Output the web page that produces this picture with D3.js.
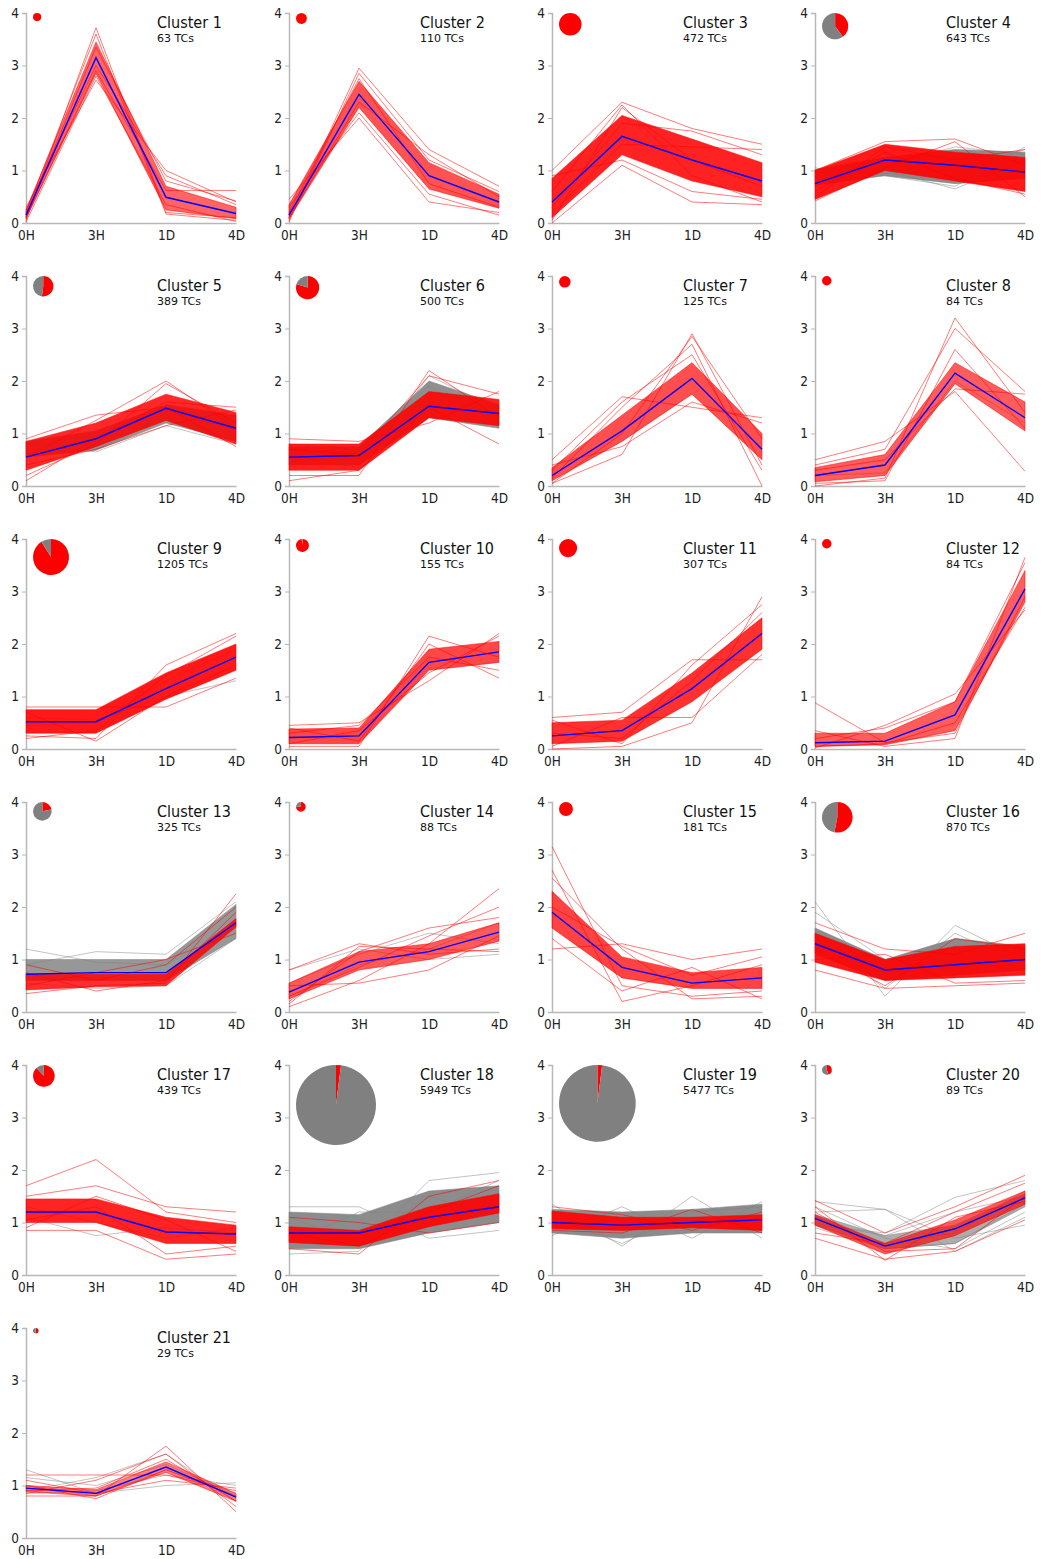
<!DOCTYPE html>
<html>
<head>
<meta charset="utf-8">
<script src="https://cdn.jsdelivr.net/npm/d3@7"></script>
<style>
  body { margin: 0; background: #fff; }
  text { font-family: "DejaVu Sans", sans-serif; }
  .cond { font-family: "DejaVu Sans Condensed", "DejaVu Sans", sans-serif; font-stretch: condensed; }
</style>
</head>
<body>
<div id="chart"></div>
<script>
// time points on the x axis
var times = ["0H", "3H", "1D", "4D"];
var clusterIds = d3.range(1, 22);
var tcCounts = [63, 110, 472, 643, 389, 500, 125, 84, 1205, 155, 307, 84, 325, 88, 181, 870, 439, 5949, 5477, 89, 29];
// share of red TCs (pie)
var redShare = [1, 1, 1, 0.4, 0.52, 0.8, 1, 1, 0.91, 0.98, 1, 1, 0.22, 0.75, 1, 0.53, 0.88, 0.02, 0.02, 0.45, 0.5];

// cluster mean profile (blue line)
var meanProfile = [
  [0.15, 3.15, 0.49, 0.18], [0.15, 2.45, 0.9, 0.4], [0.4, 1.65, 1.2, 0.8], [0.75, 1.2, 1.1, 0.97],
  [0.55, 0.9, 1.48, 1.1], [0.55, 0.58, 1.52, 1.38], [0.2, 1.05, 2.05, 0.7], [0.2, 0.4, 2.15, 1.3],
  [0.52, 0.52, 1.15, 1.75], [0.22, 0.25, 1.65, 1.85], [0.25, 0.35, 1.15, 2.2], [0.12, 0.15, 0.65, 3.05],
  [0.72, 0.75, 0.75, 1.7], [0.38, 0.95, 1.15, 1.52], [1.9, 0.85, 0.55, 0.65], [1.3, 0.8, 0.9, 1.0],
  [1.2, 1.2, 0.82, 0.78], [0.8, 0.8, 1.1, 1.3], [1.0, 0.95, 1.0, 1.05], [1.08, 0.55, 0.88, 1.47],
  [0.95, 0.85, 1.35, 0.78]
];

// dense core of the red profiles (low / high edge per time point)
var redBandLo = [
  [0.08, 2.85, 0.25, 0.08], [0.08, 2.2, 0.65, 0.28], [0.1, 1.3, 0.8, 0.5], [0.45, 1.0, 0.8, 0.6],
  [0.3, 0.75, 1.25, 0.8], [0.3, 0.3, 1.3, 1.15], [0.1, 0.85, 1.75, 0.5], [0.08, 0.2, 1.95, 1.05],
  [0.3, 0.3, 0.95, 1.5], [0.1, 0.1, 1.5, 1.65], [0.1, 0.15, 0.9, 1.9], [0.05, 0.08, 0.35, 2.8],
  [0.42, 0.48, 0.5, 1.62], [0.25, 0.8, 1.0, 1.35], [1.6, 0.65, 0.45, 0.45], [0.95, 0.6, 0.65, 0.7],
  [1.0, 1.0, 0.6, 0.6], [0.62, 0.55, 0.92, 1.18], [0.88, 0.85, 0.9, 0.85], [0.95, 0.4, 0.75, 1.35],
  [0.88, 0.8, 1.25, 0.7]
];
var redBandHi = [
  [0.25, 3.45, 0.7, 0.3], [0.35, 2.7, 1.15, 0.55], [0.85, 2.05, 1.6, 1.15], [1.0, 1.5, 1.35, 1.25],
  [0.85, 1.2, 1.75, 1.4], [0.8, 0.8, 1.8, 1.65], [0.35, 1.35, 2.35, 1.0], [0.35, 0.6, 2.35, 1.6],
  [0.75, 0.75, 1.45, 2.0], [0.38, 0.4, 1.9, 2.05], [0.5, 0.55, 1.45, 2.5], [0.3, 0.3, 0.9, 3.4],
  [0.72, 0.72, 0.72, 1.78], [0.55, 1.15, 1.3, 1.7], [2.3, 1.05, 0.75, 0.85], [1.5, 1.0, 1.25, 1.3],
  [1.45, 1.45, 1.1, 0.95], [0.92, 0.85, 1.3, 1.55], [1.22, 1.1, 1.1, 1.15], [1.15, 0.6, 1.05, 1.6],
  [1.0, 0.92, 1.45, 0.85]
];
// dense core of the grey profiles (null where there is none)
var grayBandLo = [
  null, null, null, [0.72, 0.9, 0.75, 0.85], [0.55, 0.68, 1.2, 0.85], [0.4, 0.4, 1.3, 1.1], null, null,
  null, null, null, null, [0.6, 0.6, 0.6, 1.4], null, null, [1.1, 0.6, 0.7, 0.8],
  null, [0.5, 0.5, 0.8, 1.0], [0.8, 0.7, 0.8, 0.8], [0.95, 0.5, 0.6, 1.3], null
];
var grayBandHi = [
  null, null, null, [1.02, 1.25, 1.4, 1.35], [0.85, 1.05, 1.55, 1.35], [0.75, 0.75, 2.0, 1.55], null, null,
  null, null, null, null, [1.0, 1.0, 1.0, 2.05], null, null, [1.6, 1.0, 1.4, 1.25],
  null, [1.2, 1.15, 1.6, 1.7], [1.25, 1.2, 1.25, 1.35], [1.15, 0.75, 0.95, 1.55], null
];

// single red profiles outside the core
var redLines = [
  [[0.05, 3.72, 0.2, 0.1], [0.3, 2.72, 1.0, 0.4], [0.2, 3.6, 0.17, 0.05], [0.1, 2.9, 0.62, 0.62], [0.25, 3.0, 0.9, 0.35], [0.12, 3.35, 0.8, 0.42], [0.02, 2.8, 0.35, 0.03]],
  [[0.05, 2.95, 1.4, 0.7], [0.45, 2.0, 0.4, 0.2], [0.02, 2.85, 1.2, 0.6], [0.3, 2.1, 0.55, 0.15], [0.2, 2.75, 0.75, 0.3], [0.1, 2.3, 1.3, 0.5]],
  [[0.0, 1.1, 0.4, 0.35], [1.0, 2.3, 1.8, 1.5], [0.05, 2.2, 1.2, 0.7], [0.9, 1.2, 0.6, 0.45], [0.3, 1.9, 1.75, 1.3], [0.6, 2.25, 0.9, 0.4], [0.2, 1.5, 1.45, 1.4]],
  [[0.42, 1.05, 1.55, 0.5], [1.0, 1.55, 1.6, 1.1], [0.6, 1.35, 0.85, 0.55], [0.5, 1.45, 1.2, 1.4]],
  [[0.2, 0.8, 1.95, 1.2], [0.9, 1.35, 1.5, 0.75], [0.1, 0.9, 1.6, 1.5], [0.55, 1.25, 2.0, 1.1], [0.4, 0.7, 1.15, 1.45]],
  [[0.2, 0.2, 2.2, 1.3], [0.9, 0.85, 1.2, 1.8], [0.1, 0.3, 1.5, 0.8], [0.7, 0.6, 2.1, 1.75]],
  [[0.05, 0.6, 2.9, 0.4], [0.5, 1.7, 1.5, 1.3], [0.15, 1.5, 2.7, 0.0], [0.4, 0.75, 1.6, 1.2], [0.3, 1.6, 2.5, 0.3], [0.05, 1.0, 2.85, 0.9]],
  [[0.0, 0.15, 3.2, 1.4], [0.5, 0.85, 1.8, 0.28], [0.4, 0.7, 3.0, 1.8], [0.05, 0.1, 2.6, 1.1], [0.3, 0.5, 1.85, 1.75]],
  [[0.25, 0.2, 1.6, 2.2], [0.8, 0.8, 0.8, 1.35], [0.2, 0.35, 1.4, 2.15], [0.7, 0.15, 1.0, 1.6]],
  [[0.05, 0.05, 2.15, 1.75], [0.45, 0.5, 1.3, 2.2], [0.4, 0.15, 2.0, 1.35], [0.1, 0.35, 1.45, 2.15], [0.3, 0.45, 1.75, 1.5]],
  [[0.0, 0.05, 0.5, 2.9], [0.6, 0.7, 1.7, 1.7], [0.55, 0.1, 1.6, 2.75], [0.05, 0.6, 0.6, 1.8], [0.3, 0.2, 1.3, 2.6]],
  [[0.88, 0.12, 0.3, 2.9], [0.02, 0.45, 1.05, 2.65], [0.35, 0.05, 0.2, 3.65], [0.2, 0.4, 0.9, 3.55], [0.05, 0.1, 0.5, 2.7]],
  [[0.35, 0.5, 0.55, 2.25], [0.9, 0.6, 0.9, 2.0], [0.5, 0.75, 1.0, 1.5], [0.75, 0.4, 0.6, 1.9]],
  [[0.1, 0.6, 1.3, 2.35], [0.8, 1.3, 1.1, 1.2], [0.2, 1.15, 1.6, 1.8], [0.5, 0.55, 0.8, 1.45], [0.3, 0.85, 1.45, 2.0], [0.15, 1.25, 1.2, 1.15]],
  [[3.15, 0.5, 0.3, 0.4], [1.2, 1.3, 1.0, 1.2], [2.7, 0.2, 0.5, 0.9], [2.55, 1.2, 0.25, 0.3], [1.4, 0.4, 0.85, 0.25], [2.0, 1.25, 0.7, 1.05]],
  [[0.8, 0.45, 0.5, 0.55], [1.7, 1.2, 1.1, 1.5], [1.2, 0.5, 1.4, 1.2], [1.0, 1.1, 0.55, 0.6]],
  [[1.7, 2.2, 1.2, 1.0], [0.85, 0.85, 0.3, 0.4], [1.5, 1.7, 1.3, 1.2], [1.05, 1.3, 0.4, 0.55], [0.9, 1.5, 1.05, 0.45]],
  [[0.5, 0.4, 1.5, 1.8], [1.1, 1.0, 0.8, 1.0], [0.8, 0.55, 1.2, 1.7]],
  [[1.3, 1.15, 0.85, 1.2], [0.85, 0.8, 1.25, 0.8]],
  [[0.7, 0.3, 0.45, 1.05], [1.42, 0.8, 1.3, 1.9], [1.3, 0.28, 1.1, 1.4], [0.8, 0.6, 1.2, 1.75], [1.2, 0.45, 0.5, 1.5]],
  [[0.8, 0.8, 1.75, 0.5], [1.2, 1.2, 1.2, 0.9], [0.9, 0.95, 1.5, 0.7], [1.0, 0.75, 1.3, 0.8], [0.85, 1.1, 1.6, 0.6], [1.1, 0.85, 1.1, 0.95]]
];
// single grey profiles
var grayLines = [
  [], [], [],
  [[0.95, 1.0, 0.65, 1.2], [1.05, 0.9, 0.7, 1.45], [0.8, 1.1, 1.45, 1.3], [0.9, 0.95, 1.0, 1.4]],
  [[0.8, 0.65, 1.15, 0.8], [0.6, 0.7, 1.3, 1.2]],
  [[0.6, 0.35, 2.1, 1.45], [0.8, 0.7, 1.9, 1.2]],
  [],
  [[0.2, 0.25, 2.0, 1.2]],
  [[0.6, 0.55, 1.0, 1.3], [0.45, 0.5, 1.3, 1.9]],
  [], [], [],
  [[1.2, 0.95, 0.9, 1.6], [0.9, 1.15, 1.1, 2.1], [0.55, 0.45, 0.5, 1.4]],
  [[0.8, 1.2, 1.0, 1.1], [0.55, 1.1, 1.5, 1.3], [0.3, 0.9, 1.2, 1.7]],
  [],
  [[2.1, 0.3, 1.65, 1.0], [1.9, 1.0, 0.8, 1.2], [1.4, 0.45, 1.5, 0.9]],
  [[1.1, 0.75, 0.9, 0.8], [1.3, 1.0, 0.7, 0.9]],
  [[1.3, 1.3, 0.7, 0.85], [0.4, 0.45, 1.8, 1.95], [1.1, 0.6, 1.5, 1.1], [0.6, 1.2, 1.2, 1.8]],
  [[1.35, 0.55, 1.5, 0.7], [0.75, 1.3, 0.7, 1.4], [1.1, 0.6, 1.2, 1.3]],
  [[1.4, 1.25, 0.7, 0.95], [1.2, 1.25, 0.45, 1.1], [0.95, 0.8, 1.48, 1.8], [1.3, 0.7, 0.5, 1.2], [1.1, 0.6, 0.8, 1.6], [0.9, 0.5, 0.6, 1.35], [1.0, 0.75, 1.2, 1.5]],
  [[1.3, 0.85, 1.0, 1.05], [0.9, 1.15, 1.6, 0.7], [1.0, 0.8, 1.3, 0.85], [1.15, 1.0, 1.4, 0.8], [0.85, 0.9, 1.2, 1.0]]
];

var RED = "#ff0000", GRAY = "#808080", BLUE = "#0000ff";
var cols = 4, step = 263,
    plotW = 210, plotH = 210,
    left0 = 26, top0 = 13;

var svg = d3.select("#chart")
  .append("svg")
    .attr("width", 1046)
    .attr("height", 1559);

var x = d3.scalePoint().domain(times).range([0, plotW]);
var y = d3.scaleLinear().domain([0, 4]).range([plotH, 0]);
var r = d3.scaleSqrt().domain([0, 5949]).range([0, 40]);
// fewer TCs -> thinner looking core
var density = d3.scaleLog().domain([29, 600]).range([0.5, 0.9]).clamp(true);

var line = d3.line()
  .x(function(d, i) { return x(times[i]); })
  .y(function(d) { return y(d); });

var band = d3.area()
  .x(function(d, i) { return x(times[i]); })
  .y0(function(d) { return y(d[0]); })
  .y1(function(d) { return y(d[1]); });

var arc = d3.arc().innerRadius(0);
var pie = d3.pie().sort(null).value(function(d) { return d; });

function pairs(lo, hi) {
  return lo.map(function(v, i) { return [v, hi[i]]; });
}

clusterIds.forEach(function(id, k) {
  var g = svg.append("g")
    .attr("transform", "translate(" + (left0 + (k % cols) * step) + "," + (top0 + Math.floor(k / cols) * step) + ")");
  var op = density(tcCounts[k]);

  // axes
  var ya = g.append("g").call(d3.axisLeft(y).ticks(4).tickSize(4).tickPadding(3));
  var xa = g.append("g").attr("transform", "translate(0," + plotH + ")")
    .call(d3.axisBottom(x).tickSize(0).tickPadding(7));
  [ya, xa].forEach(function(a) {
    a.select(".domain").attr("stroke", "#b8b8b8").attr("stroke-width", 1.5);
    a.selectAll(".tick line").attr("stroke", "#b8b8b8");
    a.selectAll(".tick text").attr("class", "cond").attr("fill", "#222").style("font-size", "13.5px");
  });

  // grey profiles
  if (grayBandLo[k]) {
    g.append("path").datum(pairs(grayBandLo[k], grayBandHi[k]))
      .attr("d", band)
      .attr("fill", GRAY).attr("fill-opacity", op)
      .attr("stroke", GRAY).attr("stroke-opacity", 0.5);
  }
  g.selectAll(".gl").data(grayLines[k]).enter().append("path")
    .attr("d", line)
    .attr("fill", "none").attr("stroke", GRAY)
    .attr("stroke-width", 0.8).attr("stroke-opacity", 0.6);

  // red profiles
  g.append("path").datum(pairs(redBandLo[k], redBandHi[k]))
    .attr("d", band)
    .attr("fill", RED).attr("fill-opacity", op)
    .attr("stroke", RED).attr("stroke-opacity", 0.5);
  g.selectAll(".rl").data(redLines[k]).enter().append("path")
    .attr("d", line)
    .attr("fill", "none").attr("stroke", RED)
    .attr("stroke-width", 0.8).attr("stroke-opacity", 0.65);

  // mean
  g.append("path").datum(meanProfile[k])
    .attr("d", line)
    .attr("fill", "none").attr("stroke", BLUE).attr("stroke-width", 1.4);

  // pie
  var rad = r(tcCounts[k]);
  var pg = g.append("g").attr("transform", "translate(" + (7 + rad) + "," + rad + ")");
  pg.selectAll("path").data(pie([redShare[k], 1 - redShare[k]])).enter().append("path")
    .attr("d", function(d) { return arc.outerRadius(rad)(d); })
    .attr("fill", function(d, i) { return i === 0 ? RED : GRAY; });

  // titles
  g.append("text").attr("class", "cond").attr("x", 131).attr("y", 15)
    .style("font-size", "16px").attr("fill", "#111")
    .text("Cluster " + id);
  g.append("text").attr("x", 131).attr("y", 29)
    .style("font-size", "11px").attr("fill", "#111")
    .text(tcCounts[k] + " TCs");
});
</script>
</body>
</html>
